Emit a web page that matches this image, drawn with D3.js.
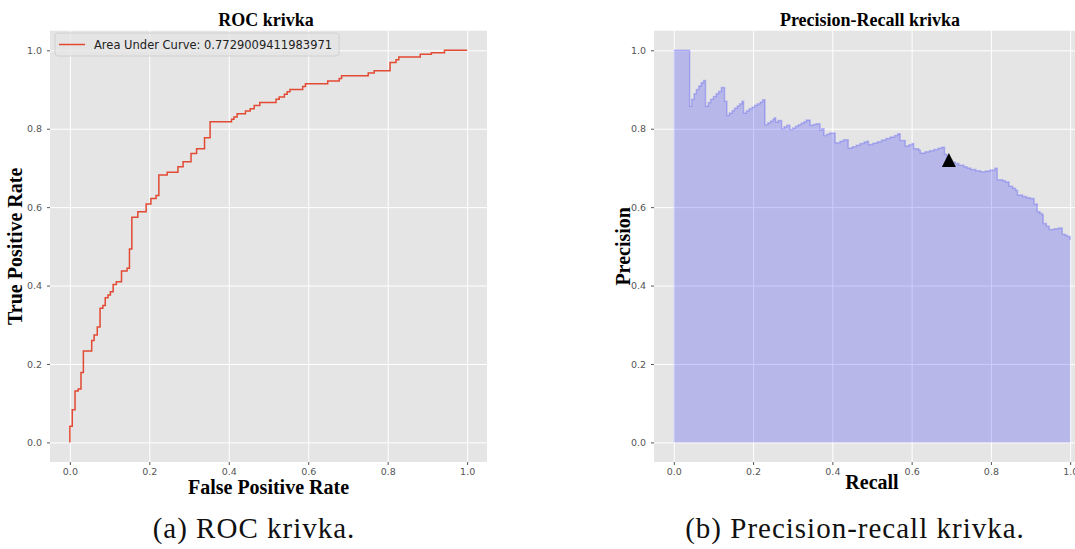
<!DOCTYPE html>
<html>
<head>
<meta charset="utf-8">
<script src="https://d3js.org/d3.v7.min.js"></script>
<style>
  body { margin: 0; background: #fff; }
  svg { display: block; }
  .tick text { font-family: "DejaVu Sans", sans-serif; font-size: 9.5px; fill: #555; }
  .tick line { stroke: #555; }
  .domain { display: none; }
  .grid line { stroke: #fff; stroke-width: 1; }
  .grid text { display: none; }
  .title, .label { font-family: "Liberation Serif", "Times New Roman", serif; font-weight: bold; fill: #000; }
  .caption { font-family: "Liberation Serif", "Times New Roman", serif; fill: #111; }
</style>
</head>
<body>
<script>
// ROC curve, corners of the staircase (fpr, tpr)
var rocFpr = [0, 0, 0.006, 0.013, 0.021, 0.028, 0.034, 0.055, 0.061, 0.069, 0.076, 0.083, 0.089, 0.096,
  0.102, 0.109, 0.117, 0.130, 0.144, 0.150, 0.156, 0.171, 0.192, 0.204, 0.217, 0.224, 0.245, 0.272,
  0.285, 0.305, 0.319, 0.339, 0.353, 0.407, 0.413, 0.421, 0.442, 0.454, 0.464, 0.478, 0.519, 0.527,
  0.540, 0.547, 0.554, 0.586, 0.593, 0.649, 0.678, 0.684, 0.751, 0.766, 0.806, 0.821, 0.828, 0.882,
  0.910, 0.943, 1.000];
var rocTpr = [0, 0.041, 0.083, 0.131, 0.136, 0.178, 0.233, 0.260, 0.274, 0.294, 0.342, 0.349, 0.369, 0.376,
  0.384, 0.403, 0.410, 0.437, 0.444, 0.493, 0.574, 0.588, 0.608, 0.622, 0.630, 0.682, 0.689, 0.703,
  0.716, 0.737, 0.749, 0.777, 0.818, 0.824, 0.830, 0.838, 0.845, 0.851, 0.859, 0.867, 0.875, 0.881,
  0.888, 0.894, 0.900, 0.908, 0.915, 0.922, 0.928, 0.935, 0.942, 0.948, 0.969, 0.976, 0.983, 0.990,
  0.994, 1.000, 1.000];
var aucText = "Area Under Curve: 0.7729009411983971";

// precision-recall curve, level starts (recall, precision)
var prRecall = [0.000, 0.040, 0.045, 0.051, 0.057, 0.063, 0.069, 0.075, 0.080, 0.087, 0.093, 0.100,
  0.107, 0.113, 0.120, 0.128, 0.134, 0.140, 0.147, 0.153, 0.160, 0.166, 0.172, 0.176, 0.183, 0.190,
  0.197, 0.204, 0.211, 0.218, 0.224, 0.230, 0.237, 0.244, 0.250, 0.254, 0.257, 0.263, 0.272, 0.278,
  0.285, 0.293, 0.300, 0.307, 0.314, 0.321, 0.328, 0.334, 0.344, 0.352, 0.359, 0.369, 0.373, 0.379,
  0.386, 0.393, 0.407, 0.419, 0.428, 0.440, 0.450, 0.460, 0.470, 0.480, 0.487, 0.491, 0.502, 0.513,
  0.524, 0.535, 0.546, 0.557, 0.565, 0.571, 0.584, 0.593, 0.601, 0.605, 0.618, 0.622, 0.634, 0.645,
  0.656, 0.667, 0.676, 0.683, 0.689, 0.695, 0.702, 0.710, 0.719, 0.732, 0.740, 0.749, 0.762, 0.774,
  0.786, 0.798, 0.810, 0.816, 0.830, 0.837, 0.846, 0.855, 0.862, 0.867, 0.880, 0.890, 0.899, 0.909,
  0.917, 0.924, 0.930, 0.932, 0.940, 0.947, 0.960, 0.970, 0.980, 0.987, 0.993, 1.000];
var prPrecision = [1.000, 0.857, 0.875, 0.889, 0.900, 0.909, 0.917, 0.923, 0.857, 0.867, 0.875, 0.882,
  0.889, 0.895, 0.905, 0.870, 0.834, 0.840, 0.846, 0.852, 0.858, 0.864, 0.870, 0.840, 0.846, 0.851,
  0.855, 0.860, 0.864, 0.868, 0.874, 0.810, 0.815, 0.820, 0.824, 0.828, 0.817, 0.821, 0.800, 0.805,
  0.809, 0.798, 0.802, 0.806, 0.810, 0.814, 0.818, 0.822, 0.809, 0.811, 0.813, 0.796, 0.800, 0.783,
  0.786, 0.789, 0.764, 0.768, 0.772, 0.751, 0.754, 0.758, 0.762, 0.766, 0.768, 0.760, 0.763, 0.767,
  0.771, 0.775, 0.779, 0.783, 0.787, 0.770, 0.756, 0.759, 0.762, 0.749, 0.745, 0.738, 0.741, 0.744,
  0.747, 0.750, 0.753, 0.735, 0.726, 0.720, 0.715, 0.711, 0.707, 0.703, 0.700, 0.696, 0.693, 0.690,
  0.692, 0.695, 0.699, 0.670, 0.667, 0.664, 0.653, 0.648, 0.643, 0.631, 0.627, 0.624, 0.622, 0.608,
  0.588, 0.584, 0.580, 0.558, 0.551, 0.543, 0.545, 0.547, 0.531, 0.528, 0.525, 0.516];

// chosen operating point on the PR curve
var pointRecall = [0.694];
var pointPrecision = [0.720];

var tickValues = [0, 0.2, 0.4, 0.6, 0.8, 1.0];

window.onload = function() {
  var svg = d3.select("body")
    .append("svg")
    .attr("width", 1075)
    .attr("height", 549);

  var roc = panel(svg, 50, 487, "ROC krivka", 266, "False Positive Rate", 494, "True Positive Rate", 22);
  var pr = panel(svg, 654, 1090, "Precision-Recall krivka", 870, "Recall", 489, "Precision", 630);

  // roc line
  var rocData = rocFpr.map(function(d, i) { return [d, rocTpr[i]]; });
  roc.plot.append("path")
    .datum(rocData)
    .attr("fill", "none")
    .attr("stroke", "#E24A33")
    .attr("stroke-width", 1.5)
    .attr("d", d3.line()
      .curve(d3.curveStepAfter)
      .x(function(d) { return roc.x(d[0]); })
      .y(function(d) { return roc.y(d[1]); }));

  // legend
  var legend = roc.plot.append("g").attr("transform", "translate(55,33)");
  var box = legend.append("rect")
    .attr("rx", 3)
    .attr("height", 23)
    .attr("fill", "#e5e5e5")
    .attr("fill-opacity", 0.8)
    .attr("stroke", "#cccccc")
    .attr("stroke-width", 0.8);
  legend.append("line")
    .attr("x1", 4).attr("x2", 30)
    .attr("y1", 11.5).attr("y2", 11.5)
    .attr("stroke", "#E24A33")
    .attr("stroke-width", 1.5);
  var lt = legend.append("text")
    .attr("x", 39)
    .attr("y", 15.5)
    .style("font-family", "DejaVu Sans, sans-serif")
    .style("font-size", "11.5px")
    .style("fill", "#222")
    .text(aucText);
  box.attr("width", 39 + lt.node().getComputedTextLength() + 7);

  // precision-recall fill and step line
  var prData = prRecall.map(function(d, i) { return [d, prPrecision[i]]; });
  pr.plot.append("path")
    .datum(prData)
    .attr("fill", "blue")
    .attr("fill-opacity", 0.2)
    .attr("stroke", "none")
    .attr("d", d3.area()
      .curve(d3.curveStepAfter)
      .x(function(d) { return pr.x(d[0]); })
      .y0(pr.y(0))
      .y1(function(d) { return pr.y(d[1]); }));
  pr.plot.append("path")
    .datum(prData)
    .attr("fill", "none")
    .attr("stroke", "blue")
    .attr("stroke-opacity", 0.2)
    .attr("stroke-width", 1.5)
    .attr("d", d3.line()
      .curve(d3.curveStepAfter)
      .x(function(d) { return pr.x(d[0]); })
      .y(function(d) { return pr.y(d[1]); }));

  // triangle marker
  pr.plot.selectAll(".marker")
    .data(pointRecall)
    .enter()
    .append("path")
    .attr("class", "marker")
    .attr("transform", function(d, i) {
      return "translate(" + pr.x(d) + "," + pr.y(pointPrecision[i]) + ")";
    })
    .attr("d", "M0,-7L7,7L-7,7Z")
    .attr("fill", "#000");

  // captions
  svg.append("text")
    .attr("class", "caption")
    .attr("x", 254)
    .attr("y", 538)
    .attr("text-anchor", "middle")
    .style("font-size", "29px")
    .style("letter-spacing", "1px")
    .text("(a) ROC krivka.");
  svg.append("text")
    .attr("class", "caption")
    .attr("x", 855)
    .attr("y", 538)
    .attr("text-anchor", "middle")
    .style("font-size", "29px")
    .style("letter-spacing", "1px")
    .text("(b) Precision-recall krivka.");
};

function panel(svg, left, right, title, titleX, xlabel, xlabelY, ylabel, ylabelX) {
  var top = 30.7, bottom = 462;

  var x = d3.scaleLinear().domain([-0.05, 1.05]).range([left, right]);
  var y = d3.scaleLinear().domain([-0.05, 1.05]).range([bottom, top]);

  var g = svg.append("g");

  // background
  g.append("rect")
    .attr("x", left)
    .attr("y", top)
    .attr("width", right - left)
    .attr("height", bottom - top)
    .attr("fill", "#e5e5e5");

  // grid
  g.append("g")
    .attr("class", "grid")
    .attr("transform", "translate(0," + bottom + ")")
    .call(d3.axisBottom(x).tickValues(tickValues).tickSize(-(bottom - top)));
  g.append("g")
    .attr("class", "grid")
    .attr("transform", "translate(" + left + ",0)")
    .call(d3.axisLeft(y).tickValues(tickValues).tickSize(-(right - left)));

  var plot = g.append("g");

  // axes with tick labels
  g.append("g")
    .attr("class", "axis")
    .attr("transform", "translate(0," + bottom + ")")
    .call(d3.axisBottom(x).tickValues(tickValues).tickFormat(d3.format(".1f")).tickSize(3).tickPadding(3));
  g.append("g")
    .attr("class", "axis")
    .attr("transform", "translate(" + left + ",0)")
    .call(d3.axisLeft(y).tickValues(tickValues).tickFormat(d3.format(".1f")).tickSize(3).tickPadding(5));

  // title
  g.append("text")
    .attr("class", "title")
    .attr("x", titleX)
    .attr("y", 26)
    .attr("text-anchor", "middle")
    .style("font-size", "18px")
    .text(title);

  // x label
  g.append("text")
    .attr("class", "label")
    .attr("x", (left + right) / 2)
    .attr("y", xlabelY)
    .attr("text-anchor", "middle")
    .style("font-size", "20px")
    .text(xlabel);

  // y label
  g.append("text")
    .attr("class", "label")
    .attr("transform", "translate(" + ylabelX + "," + (top + bottom) / 2 + ") rotate(-90)")
    .attr("text-anchor", "middle")
    .style("font-size", "20px")
    .text(ylabel);

  return {x: x, y: y, plot: plot};
}
</script>
</body>
</html>
